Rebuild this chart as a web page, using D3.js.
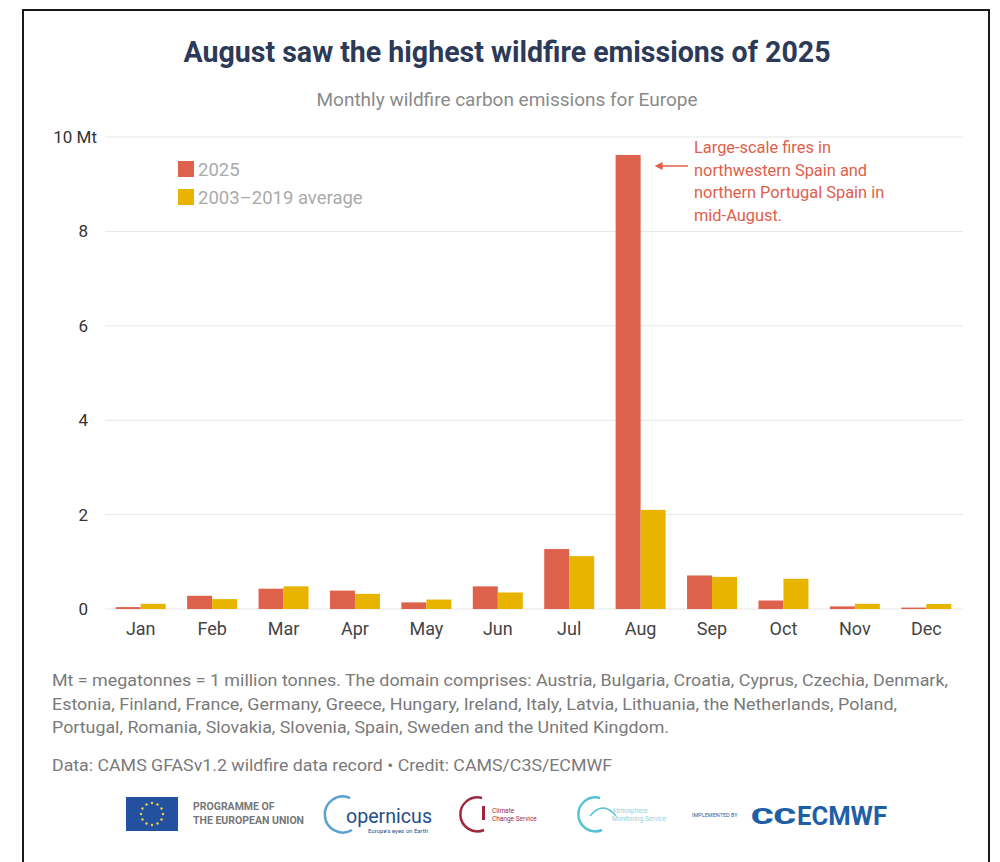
<!DOCTYPE html>
<html><head><meta charset="utf-8">
<script src="https://cdn.jsdelivr.net/npm/d3@7"></script>
<style>
html,body{margin:0;padding:0;background:#fff;}
svg{display:block;font-family:Roboto,"Noto Sans",sans-serif;}
</style></head>
<body>
<svg id="chart" width="1000" height="862"></svg>
<script>
const months = ["Jan","Feb","Mar","Apr","May","Jun","Jul","Aug","Sep","Oct","Nov","Dec"];
const seriesNames = ["2025","2003\u20132019 average"];
const values2025 = [0.04,0.28,0.43,0.39,0.14,0.48,1.27,9.62,0.71,0.18,0.055,0.03];
const valuesAvg = [0.11,0.21,0.48,0.32,0.20,0.35,1.12,2.10,0.68,0.64,0.11,0.105];
const yTicks = [0,2,4,6,8,10];
const colors = ["#de624b","#e8b400"];

const svg = d3.select("#chart");

// frame
svg.append("rect").attr("x",23).attr("y",10).attr("width",966).attr("height",880)
  .attr("fill","#fff").attr("stroke","#1a1a1a").attr("stroke-width",2);

// title
svg.append("text").attr("x",507).attr("y",62).attr("text-anchor","middle")
  .attr("font-size",30).attr("font-weight",700).attr("fill","#2c3a58")
  .attr("textLength",647).attr("lengthAdjust","spacingAndGlyphs")
  .text("August saw the highest wildfire emissions of 2025");
svg.append("text").attr("x",507).attr("y",106).attr("text-anchor","middle")
  .attr("font-size",19).attr("fill","#8a8a8a")
  .attr("textLength",381).attr("lengthAdjust","spacingAndGlyphs")
  .text("Monthly wildfire carbon emissions for Europe");

const x0 = d3.scaleBand().domain(months).range([105,962]).paddingInner(0.3).paddingOuter(0.15);
const x1 = d3.scaleBand().domain([0,1]).range([0,x0.bandwidth()]).padding(0);
const y = d3.scaleLinear().domain([0,10]).range([609,137]);

// gridlines
svg.append("g").selectAll("line").data(yTicks).join("line")
  .attr("x1",105).attr("x2",963).attr("y1",d=>y(d)).attr("y2",d=>y(d))
  .attr("stroke","#e6e6e6").attr("stroke-width",1);

// y labels
svg.append("g").selectAll("text").data(yTicks).join("text")
  .attr("x",d=>d===10?97:88).attr("y",d=>y(d)+6).attr("text-anchor","end")
  .attr("font-size",17).attr("fill","#333")
  .text(d=>d===10?"10 Mt":d);

// bars
const groups = svg.append("g").selectAll("g").data(months).join("g")
  .attr("transform",m=>`translate(${x0(m)},0)`);
groups.selectAll("rect").data((m,i)=>[values2025[i],valuesAvg[i]]).join("rect")
  .attr("x",(d,j)=>x1(j)).attr("width",x1.bandwidth())
  .attr("y",d=>y(d)).attr("height",d=>y(0)-y(d))
  .attr("fill",(d,j)=>colors[j]);

// x labels
const xAxis = svg.append("g").attr("transform",`translate(0,${y(0)})`)
  .call(d3.axisBottom(x0).tickSize(0).tickPadding(10));
xAxis.select(".domain").remove();
xAxis.selectAll("text").attr("font-size",18).attr("fill","#444")
  .attr("font-family","Roboto,sans-serif").attr("dy","0.9em");

// legend
const leg = svg.append("g");
seriesNames.forEach((s,i)=>{
  leg.append("rect").attr("x",178).attr("y",161+i*28).attr("width",16).attr("height",16).attr("fill",colors[i]);
  leg.append("text").attr("x",198).attr("y",176+i*28).attr("font-size",18.5).attr("fill","#aaaaaa").text(s);
});

// annotation
const annoLines = ["Large-scale fires in","northwestern Spain and","northern Portugal Spain in","mid-August."];
const ann = svg.append("g");
annoLines.forEach((t,i)=>{
  ann.append("text").attr("x",694).attr("y",153+i*22.7).attr("font-size",16.4).attr("fill","#e0604a").text(t);
});
const augX = x0("Aug")+x1.bandwidth()+14;
ann.append("line").attr("x1",688).attr("x2",augX+4).attr("y1",166).attr("y2",166)
  .attr("stroke","#e0604a").attr("stroke-width",1.5);
ann.append("path").attr("d",`M${augX},166 l8,-4 l0,8 z`).attr("fill","#e0604a");

// footer notes
const notes = [
  ["Mt = megatonnes = 1 million tonnes. The domain comprises: Austria, Bulgaria, Croatia, Cyprus, Czechia, Denmark,",896,686],
  ["Estonia, Finland, France, Germany, Greece, Hungary, Ireland, Italy, Latvia, Lithuania, the Netherlands, Poland,",845,710],
  ["Portugal, Romania, Slovakia, Slovenia, Spain, Sweden and the United Kingdom.",617,733],
  ["Data: CAMS GFASv1.2 wildfire data record \u2022 Credit: CAMS/C3S/ECMWF",560,771]
];
svg.append("g").selectAll("text").data(notes).join("text")
  .attr("x",52).attr("y",d=>d[2]).attr("font-size",17).attr("fill","#7a7a7a")
  .attr("textLength",d=>d[1]).attr("lengthAdjust","spacingAndGlyphs").text(d=>d[0]);

// logos (approximate)
const lg = svg.append("g");
lg.append("rect").attr("x",126).attr("y",797).attr("width",52).attr("height",34).attr("fill","#2450a0");
d3.range(12).forEach(k=>{
  const a = k*Math.PI/6;
  lg.append("circle").attr("cx",152+11*Math.cos(a)).attr("cy",814+11*Math.sin(a)).attr("r",1.2).attr("fill","#f4d23a");
});
lg.append("text").attr("x",193).attr("y",810).attr("font-size",10.5).attr("font-weight",700).attr("fill","#777").text("PROGRAMME OF");
lg.append("text").attr("x",193).attr("y",824).attr("font-size",10.5).attr("font-weight",700).attr("fill","#777").text("THE EUROPEAN UNION");
// copernicus
lg.append("path").attr("d","M350,798 A18,18 0 1,0 352,830").attr("fill","none").attr("stroke","#5aa0d0").attr("stroke-width",2.5);
lg.append("text").attr("x",346).attr("y",823).attr("font-size",20).attr("fill","#1f4e8c").attr("textLength",86).attr("lengthAdjust","spacingAndGlyphs").text("opernicus");
lg.append("text").attr("x",368).attr("y",833).attr("font-size",6).attr("fill","#1f4e8c").text("Europe's eyes on Earth");
// climate change service
lg.append("path").attr("d","M482,798 A17,17 0 1,0 484,830").attr("fill","none").attr("stroke","#a0283c").attr("stroke-width",2.5);
lg.append("rect").attr("x",482).attr("y",806).attr("width",3).attr("height",14).attr("fill","#a0283c");
lg.append("text").attr("x",492).attr("y",813).attr("font-size",6.5).attr("fill","#a0283c").text("Climate");
lg.append("text").attr("x",492).attr("y",821).attr("font-size",6.5).attr("fill","#a0283c").text("Change Service");
// atmosphere monitoring
lg.append("path").attr("d","M600,798 A17,17 0 1,0 602,830").attr("fill","none").attr("stroke","#56c2d6").attr("stroke-width",2.5);
lg.append("path").attr("d","M590,816 Q603,800 616,816").attr("fill","none").attr("stroke","#56c2d6").attr("stroke-width",1.5);
lg.append("text").attr("x",612).attr("y",813).attr("font-size",6.5).attr("fill","#8fd3e0").text("Atmosphere");
lg.append("text").attr("x",612).attr("y",821).attr("font-size",6.5).attr("fill","#8fd3e0").text("Monitoring Service");
// ECMWF
lg.append("text").attr("x",692).attr("y",817).attr("font-size",5.5).attr("fill","#1f5fa6").text("IMPLEMENTED BY");
lg.append("text").attr("x",751).attr("y",824).attr("font-size",22).attr("font-weight",900).attr("fill","#1f5fa6").attr("textLength",45).attr("lengthAdjust","spacingAndGlyphs").text("CC");
lg.append("text").attr("x",797).attr("y",825).attr("font-size",26).attr("font-weight",700).attr("fill","#1f5fa6").attr("textLength",90).attr("lengthAdjust","spacingAndGlyphs").text("ECMWF");
</script>
</body></html>
